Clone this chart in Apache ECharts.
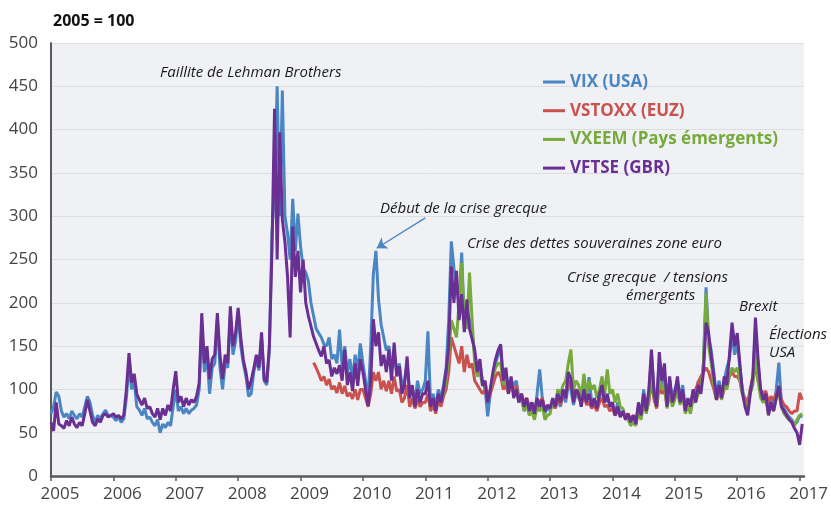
<!DOCTYPE html>
<html>
<head>
<meta charset="utf-8">
<script src="https://cdn.jsdelivr.net/npm/echarts@6/dist/echarts.min.js"></script>
<style>
html,body{margin:0;padding:0;background:#fff;}
#chart{width:831px;height:507px;}
</style>
</head>
<body>
<div id="chart"></div>
<script>
// ---- data (semi-monthly readings, 24 points per year starting 2005.0) ----
const startYear = 2005;
const pointsPerYear = 24;
const yearTicks = [2005,2006,2007,2008,2009,2010,2011,2012,2013,2014,2015,2016,2017];
const seriesNames = ['VIX (USA)', 'VSTOXX (EUZ)', 'VXEEM (Pays émergents)', 'VFTSE (GBR)'];

const vix = [
  72,80,97,92,75,68,72,66,75,70,66,72,68,80,92,85,70,62,70,66,72,76,70,70,
  68,64,68,62,66,90,130,100,110,80,76,70,78,66,68,62,58,65,50,60,56,62,58,80,
  100,75,80,72,78,72,76,78,82,100,175,120,140,95,125,130,180,125,100,130,125,185,140,155,
  190,150,130,115,92,95,120,135,122,160,110,105,145,280,330,450,300,445,300,280,250,320,260,303,
  265,240,235,225,200,185,170,165,160,152,150,160,135,140,130,169,125,150,120,135,110,140,120,153,
  130,110,88,150,233,260,204,175,160,145,150,125,140,120,130,105,110,130,95,100,85,110,95,100,
  110,167,85,95,80,100,90,105,125,180,271,240,220,200,258,175,190,180,165,140,125,130,110,100,
  69,95,115,130,140,145,110,120,100,110,105,110,90,92,75,85,72,80,70,95,123,90,72,80,
  75,85,78,90,80,95,85,105,100,82,95,100,80,110,90,114,85,88,80,90,100,85,90,82,
  80,72,85,70,72,68,70,65,68,62,80,72,100,78,95,140,100,85,130,105,120,85,110,90,
  100,110,90,105,80,88,85,95,90,110,100,130,218,160,145,120,92,110,95,110,125,135,165,140,
  155,125,100,85,75,100,110,170,130,95,85,90,75,90,80,100,131,85,78,72,68,65,60,62,
  70,68
];

const vstoxx = [
  null,null,null,null,null,null,null,null,null,null,null,null,null,null,null,null,null,null,null,null,null,null,null,null,
  null,null,null,null,null,null,null,null,null,null,null,null,null,null,null,null,null,null,null,null,null,null,null,null,
  null,null,null,null,null,null,null,null,null,null,null,null,null,null,null,null,null,null,null,null,null,null,null,null,
  null,null,null,null,null,null,null,null,null,null,null,null,null,null,null,null,null,null,null,null,null,null,null,null,
  null,null,null,null,null,131,125,118,110,115,105,112,100,104,96,108,95,104,92,96,89,100,88,100,
  100,90,80,95,120,110,120,100,110,98,110,95,115,98,100,85,90,105,80,90,78,88,80,85,
  85,95,75,82,72,88,80,92,100,120,160,150,140,130,150,120,140,125,130,110,105,100,95,100,
  88,95,105,115,120,115,100,105,95,110,95,105,88,95,85,90,80,85,75,88,85,90,78,80,
  80,85,78,90,82,95,90,110,105,95,100,90,85,95,82,85,78,82,75,85,90,80,82,75,
  78,70,75,70,72,68,72,65,70,65,78,70,85,75,85,110,88,78,105,95,100,80,95,85,
  90,100,85,95,78,85,82,95,100,108,115,120,125,120,110,100,88,95,90,100,110,115,120,115,
  115,110,95,90,85,100,115,125,110,100,95,98,85,92,88,95,100,88,82,80,75,72,75,75,
  96,88
];

const vxeem = [
  null,null,null,null,null,null,null,null,null,null,null,null,null,null,null,null,null,null,null,null,null,null,null,null,
  null,null,null,null,null,null,null,null,null,null,null,null,null,null,null,null,null,null,null,null,null,null,null,null,
  null,null,null,null,null,null,null,null,null,null,null,null,null,null,null,null,null,null,null,null,null,null,null,null,
  null,null,null,null,null,null,null,null,null,null,null,null,null,null,null,null,null,null,null,null,null,null,null,null,
  null,null,null,null,null,null,null,null,null,null,null,null,null,null,null,null,null,null,null,null,null,null,null,null,
  null,null,null,null,null,null,null,null,null,null,null,null,null,null,null,null,null,null,null,null,null,null,null,null,
  null,null,null,null,null,90,88,95,110,140,180,170,160,200,246,180,170,235,180,130,115,120,105,108,
  90,100,115,125,130,130,105,110,98,112,95,100,85,90,75,82,70,75,65,80,75,82,65,70,
  72,88,85,100,95,105,110,130,146,100,110,105,90,118,95,110,100,105,90,100,115,95,123,95,
  100,85,95,80,78,68,65,58,62,58,75,65,85,72,88,120,90,80,115,100,105,78,100,80,
  88,100,82,95,72,80,72,88,85,95,100,130,211,150,130,105,90,100,88,105,100,115,125,120,
  125,110,95,85,78,95,105,140,110,90,85,88,72,80,75,90,95,80,72,68,65,62,58,65,
  70,72
];

const vftse = [
  62,52,85,60,58,55,64,58,68,60,56,62,58,72,88,75,62,58,66,62,70,72,68,70,
  72,68,70,66,70,100,142,108,118,95,88,82,90,78,80,72,68,78,65,78,70,82,75,100,
  121,85,92,80,90,82,88,85,92,107,188,130,150,112,135,140,188,140,112,140,130,196,150,165,
  194,160,134,120,100,110,124,140,125,166,112,108,150,260,424,250,397,296,270,230,160,288,230,260,
  212,250,200,185,173,161,153,145,138,150,130,134,115,125,118,128,110,146,105,120,98,130,104,135,
  120,100,81,110,181,150,166,127,140,120,146,110,154,115,127,95,105,138,90,105,80,100,85,95,
  95,110,80,90,75,95,85,100,120,150,242,200,237,180,210,166,204,170,158,146,120,135,104,110,
  85,100,120,135,145,152,110,125,95,115,90,100,85,95,80,90,75,85,72,90,80,88,75,82,
  78,90,80,95,85,100,90,120,112,85,100,95,80,100,85,95,80,90,78,95,105,85,95,80,
  85,70,80,68,75,65,72,62,70,60,85,70,95,75,100,146,95,80,143,110,130,80,115,85,
  95,115,85,100,75,90,80,100,85,105,95,120,177,165,138,115,88,105,90,115,105,140,177,150,
  165,130,96,80,70,95,115,183,135,100,88,95,70,85,75,90,104,80,75,70,65,62,55,50,
  36,60
];

// annotation arrow (data coordinates): from label to the 2010 VIX peak
const arrowFrom = [2011.0, 298];
const arrowTo = [2010.22, 263];

const colors = ['#4a86c4', '#c9514e', '#77aa3c', '#6a2f93'];

function toPoints(values) {
  return values.map((v, i) => [startYear + i / pointsPerYear, v]);
}

const chart = echarts.init(document.getElementById('chart'), null, {renderer: 'canvas'});
const fontFamily = '"Open Sans", "Noto Sans", sans-serif';

const allValues = [vix, vstoxx, vxeem, vftse];
const series = allValues.map((vals, k) => {
  const s = {
    name: seriesNames[k],
    type: 'line',
    data: toPoints(vals),
    showSymbol: false,
    symbol: 'none',
    connectNulls: false,
    lineStyle: {color: colors[k], width: 3},
    itemStyle: {color: colors[k]},
    z: 2 + k,
    animation: false
  };
  if (k === 0) {
    s.markLine = {
      silent: true,
      symbol: ['none', 'arrow'],
      symbolSize: 10,
      label: {show: false},
      lineStyle: {color: colors[0], width: 1.4, type: 'solid'},
      emphasis: {disabled: true},
      data: [[{coord: arrowFrom}, {coord: arrowTo}]]
    };
  }
  return s;
});

const annotations = [
  {text: 'Faillite de Lehman Brothers', x: 160, y: 73},
  {text: 'Début de la crise grecque', x: 380, y: 209},
  {text: 'Crise des dettes souveraines zone euro', x: 467, y: 244},
  {text: 'Crise grecque  / tensions', x: 567, y: 278},
  {text: 'émergents', x: 626, y: 296},
  {text: 'Brexit', x: 739, y: 307},
  {text: 'Élections', x: 769, y: 335},
  {text: 'USA', x: 769, y: 353}
];

chart.setOption({
  animation: false,
  backgroundColor: '#ffffff',
  color: colors,
  title: {
    text: '2005 = 100',
    left: 48,
    top: 8,
    textStyle: {fontFamily: fontFamily, fontWeight: 'bold', fontSize: 16, color: '#111'}
  },
  grid: {
    left: 51, top: 43, right: 27, bottom: 31,
    show: true, backgroundColor: '#f0f1f4', borderWidth: 0,
    containLabel: false, outerBoundsMode: 'none'
  },
  legend: {
    orient: 'vertical',
    left: 543,
    top: 72,
    padding: 0,
    icon: 'rect',
    itemWidth: 22,
    itemHeight: 3,
    itemGap: 8.7,
    itemTextGap: 3,
    selectedMode: false,
    textStyle: {fontFamily: fontFamily, fontWeight: 'bold', fontSize: 17, lineHeight: 20},
    data: seriesNames.map((n, k) => ({name: n, textStyle: {color: colors[k]}}))
  },
  xAxis: {
    type: 'value',
    min: 2005,
    max: 2017.07,
    axisLine: {show: true, onZero: false, lineStyle: {color: '#5a5a5a', width: 2.5}},
    axisTick: {show: true, customValues: yearTicks, length: 5, lineStyle: {color: '#5a5a5a', width: 1.5}},
    axisLabel: {
      customValues: yearTicks,
      formatter: v => String(Math.round(v)),
      fontFamily: fontFamily, fontSize: 17, color: '#444',
      margin: 10, padding: [0, 0, 0, 18]
    },
    splitLine: {show: false}
  },
  yAxis: {
    type: 'value',
    min: 0,
    max: 500,
    interval: 50,
    axisLine: {show: true, onZero: false, lineStyle: {color: '#5a5a5a', width: 2}},
    axisTick: {show: false},
    axisLabel: {fontFamily: fontFamily, fontSize: 17, color: '#444', margin: 13},
    splitLine: {show: true, lineStyle: {color: '#dcdde1', width: 1}}
  },
  graphic: annotations.map(a => ({
    type: 'text',
    x: a.x,
    y: a.y,
    silent: true,
    z: 100,
    style: {
      text: a.text,
      fill: '#1a1a1a',
      font: 'italic 15px ' + fontFamily,
      textVerticalAlign: 'middle',
      textAlign: 'left'
    }
  })),
  series: series
});
</script>
</body>
</html>
